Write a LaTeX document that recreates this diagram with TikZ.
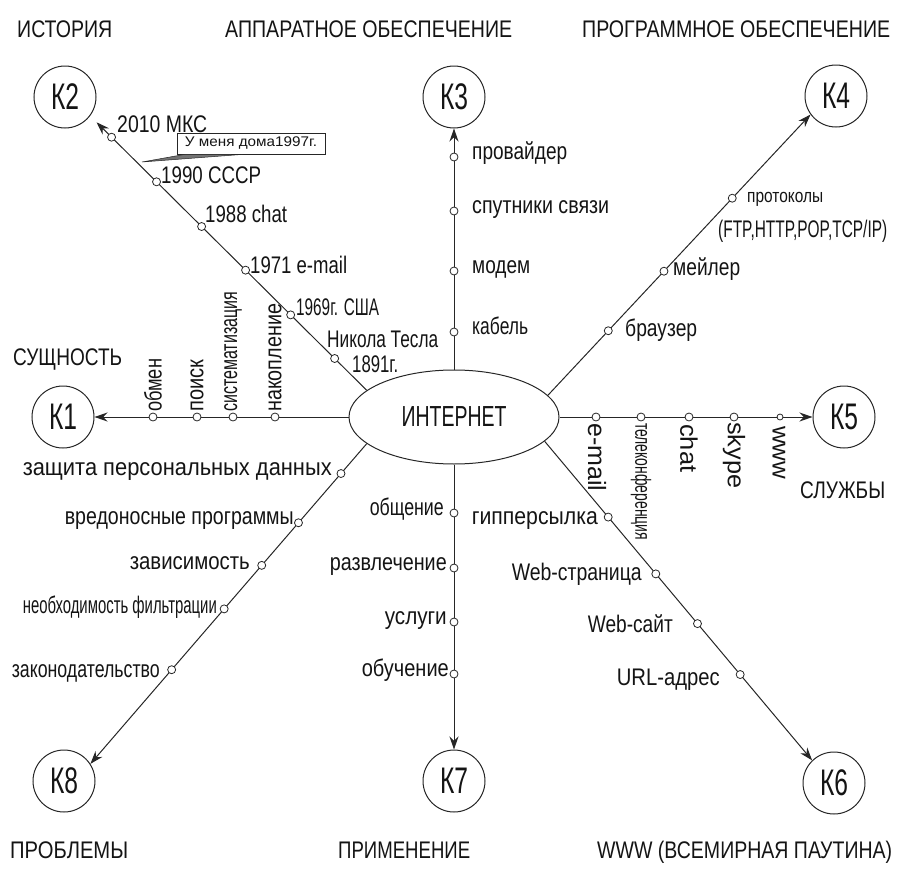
\documentclass[tikz,border=0pt]{standalone}
\usepackage{fontspec}
\setmainfont{Liberation Sans}
\usetikzlibrary{shapes.geometric,arrows.meta,calc}
\newcommand{\W}[2]{\resizebox{#1pt}{\height}{#2}}
\begin{document}
\begin{tikzpicture}[x=1pt,y=-1pt,
  every node/.style={inner sep=0pt, text=black!92},
  lbl/.style={font=\fontsize{24}{28}\selectfont},
  kc/.style={circle, draw=black!85, line width=1pt, minimum size=62pt, font=\fontsize{37}{40}\selectfont},
  dot/.style={circle, draw=black!85, fill=white, line width=0.8pt, minimum size=8pt},
  spoke/.style={draw=black!85, line width=1pt, -{Stealth[length=13pt,width=9pt]}},
]
\useasboundingbox (0,0) rectangle (897,870);

% centre
\node[ellipse, draw=black!85, line width=1pt, minimum width=210pt, minimum height=94pt,
      font=\fontsize{29}{32}\selectfont] (E) at (454,417) {\W{105}{ИНТЕРНЕТ}};

% category circles
\node[kc] (K1) at (63,417) {\W{28}{К1}};
\node[kc] (K2) at (65,97) {\W{28}{К2}};
\node[kc] (K3) at (454,97) {\W{28}{К3}};
\node[kc] (K4) at (836,96) {\W{28}{К4}};
\node[kc] (K5) at (844,417) {\W{28}{К5}};
\node[kc] (K6) at (834,783) {\W{28}{К6}};
\node[kc] (K7) at (454,781) {\W{28}{К7}};
\node[kc] (K8) at (64,781) {\W{28}{К8}};

% spokes
\draw[spoke] (E.west) -- (K1);
\draw[spoke, shorten >=9pt] (E.163.4) -- (K2.-37);
\draw[spoke] (E.north) -- (K3);
\draw[spoke] (E.13.7) -- (K4.216);
\draw[spoke] (E.east) -- (K5);
\draw[spoke] (E.-15.5) -- (K6.134);
\draw[spoke] (E.south) -- (K7);
\draw[spoke] (E.197.6) -- (K8.33);

% titles
\node[lbl, anchor=base west] (t1) at (17,37) {\W{95}{ИСТОРИЯ}};
\node[lbl, anchor=base west] (t2) at (225,37) {\W{287}{АППАРАТНОЕ ОБЕСПЕЧЕНИЕ}};
\node[lbl, anchor=base west] (t3) at (582,37) {\W{308}{ПРОГРАММНОЕ ОБЕСПЕЧЕНИЕ}};
\node[lbl, anchor=base west] (t4) at (13,365) {\W{109}{СУЩНОСТЬ}};
\node[lbl, anchor=base west] (t5) at (800,498) {\W{85}{СЛУЖБЫ}};
\node[lbl, anchor=base west] (t6) at (10,858) {\W{118}{ПРОБЛЕМЫ}};
\node[lbl, anchor=base west] (t7) at (338,858) {\W{132}{ПРИМЕНЕНИЕ}};
\node[lbl, anchor=base west] (t8) at (597,858) {\W{295}{WWW (ВСЕМИРНАЯ ПАУТИНА)}};

% K2: history
\node[dot] (h1) at ($(E.163.4)!0.9226!(K2.-37)$) {};
\node[dot] (h2) at ($(E.163.4)!0.760!(K2.-37)$) {};
\node[dot] (h3) at ($(E.163.4)!0.597!(K2.-37)$) {};
\node[dot] (h4) at ($(E.163.4)!0.438!(K2.-37)$) {};
\node[dot] (h5) at ($(E.163.4)!0.275!(K2.-37)$) {};
\node[dot] (h6) at ($(E.163.4)!0.116!(K2.-37)$) {};
\node[lbl, anchor=base west] (hl1) at (117,132) {\W{90}{2010 МКС}};
\node[lbl, anchor=base west] (hl2) at (161,183) {\W{100}{1990 СССР}};
\node[lbl, anchor=base west] (hl3) at (205,222) {\W{82}{1988 chat}};
\node[lbl, anchor=base west] (hl4) at (250,273) {\W{97}{1971 e-mail}};
\node[lbl, anchor=base west] (hl5) at (296,315) {\W{83}{1969г. США}};
\node[lbl, anchor=base west] (hl6) at (327,347) {\W{111}{Никола Тесла}};
\node[lbl, anchor=base west] (hl7) at (352,372) {\W{46}{1891г.}};

% callout
\node[draw=black!85, line width=0.8pt, minimum width=148pt, minimum height=21pt,
      font=\fontsize{14}{16}\selectfont] (cb) at (251,143.5) {\W{132}{У меня дома1997г.}};
\coordinate (cp) at (142,162);
\filldraw[fill=black!55, draw=black!85, line width=0.5pt, line join=round]
  (cp) -- ([xshift=8pt]cb.south west) -- ([xshift=66pt]cb.south west) -- cycle;

% K1: essence
\node[dot] (s1) at (153,417) {};
\node[dot] (s2) at (197,417) {};
\node[dot] (s3) at (233,417) {};
\node[dot] (s4) at (275,417) {};
\node[lbl, rotate=90, anchor=west] (sl1) at (153,412) {\W{53}{обмен}};
\node[lbl, rotate=90, anchor=west] (sl2) at (197,412) {\W{52}{поиск}};
\node[lbl, rotate=90, anchor=west] (sl3) at (233,412) {\W{120}{систематизация}};
\node[lbl, rotate=90, anchor=west] (sl4) at (275,412) {\W{108}{накопление}};

% K3: hardware
\node[dot] (a1) at (454,157) {};
\node[dot] (a2) at (454,211) {};
\node[dot] (a3) at (454,271) {};
\node[dot] (a4) at (454,332) {};
\node[lbl, anchor=mid west] (al1) at (472,157) {\W{95}{провайдер}};
\node[lbl, anchor=mid west] (al2) at (472,211) {\W{137}{спутники связи}};
\node[lbl, anchor=mid west] (al3) at (472,271) {\W{58}{модем}};
\node[lbl, anchor=mid west] (al4) at (472,332) {\W{56}{кабель}};

% K4: software
\node[dot] (p1) at ($(E.13.7)!0.230!(K4.216)$) {};
\node[dot] (p2) at ($(E.13.7)!0.442!(K4.216)$) {};
\node[dot] (p3) at ($(E.13.7)!0.702!(K4.216)$) {};
\node[lbl, anchor=mid west] (pl1) at (625,334) {\W{72}{браузер}};
\node[lbl, anchor=mid west] (pl2) at (673,273) {\W{67}{мейлер}};
\node[anchor=mid west, font=\fontsize{19}{22}\selectfont] (pl3) at (747,200) {\W{76}{протоколы}};
\node[lbl, anchor=base west] (pl4) at (718,237) {\W{169}{(FTP,HTTP,POP,TCP/IP)}};

% K5: services
\node[dot] (v1) at (596,417) {};
\node[dot] (v2) at (641,417) {};
\node[dot] (v3) at (689,417) {};
\node[dot] (v4) at (734,417) {};
\node[dot, minimum size=6pt] (v5) at (780,417) {};
\node[rotate=-90, anchor=west, font=\fontsize{25}{28}\selectfont] (vl1) at (597,423) {\W{68}{e-mail}};
\node[rotate=-90, anchor=west, font=\fontsize{22}{26}\selectfont] (vl2) at (641,423) {\W{117}{телеконференция}};
\node[lbl, rotate=-90, anchor=west] (vl3) at (689,424) {\W{48}{chat}};
\node[lbl, rotate=-90, anchor=west] (vl4) at (734,422) {\W{66}{skype}};
\node[lbl, rotate=-90, anchor=west] (vl5) at (779,426) {\W{53}{www}};

% K6: WWW
\node[dot] (w1) at ($(E.-15.5)!0.2375!(K6.134)$) {};
\node[dot] (w2) at ($(E.-15.5)!0.4156!(K6.134)$) {};
\node[dot] (w3) at ($(E.-15.5)!0.5714!(K6.134)$) {};
\node[dot] (w4) at ($(E.-15.5)!0.731!(K6.134)$) {};
\node[lbl, anchor=base east] (wl1) at (598,524) {\W{126}{гипперсылка}};
\node[lbl, anchor=base east] (wl2) at (642,580) {\W{130}{Web-страница}};
\node[lbl, anchor=base east] (wl3) at (673,632) {\W{85}{Web-сайт}};
\node[lbl, anchor=base east] (wl4) at (720,685) {\W{103}{URL-адрес}};

% K7: application
\node[dot] (u1) at (454,513) {};
\node[dot] (u2) at (454,568) {};
\node[dot] (u3) at (454,622) {};
\node[dot] (u4) at (454,674) {};
\node[lbl, anchor=mid east] (ul1) at (444,513) {\W{74}{общение}};
\node[lbl, anchor=mid east] (ul2) at (447,568) {\W{117}{развлечение}};
\node[lbl, anchor=mid east] (ul3) at (447,622) {\W{62}{услуги}};
\node[lbl, anchor=mid east] (ul4) at (449,674) {\W{87}{обучение}};

% K8: problems
\node[dot] (r1) at ($(E.197.6)!0.0932!(K8.33)$) {};
\node[dot] (r2) at ($(E.197.6)!0.247!(K8.33)$) {};
\node[dot] (r3) at ($(E.197.6)!0.380!(K8.33)$) {};
\node[dot] (r4) at ($(E.197.6)!0.516!(K8.33)$) {};
\node[dot] (r5) at ($(E.197.6)!0.706!(K8.33)$) {};
\node[lbl, anchor=mid east] (rl1) at (332,473) {\W{309}{защита персональных данных}};
\node[lbl, anchor=mid east] (rl2) at (294,522) {\W{229}{вредоносные программы}};
\node[lbl, anchor=mid east] (rl3) at (250,567) {\W{120}{зависимость}};
\node[lbl, anchor=mid east] (rl4) at (217,611) {\W{194}{необходимость фильтрации}};
\node[lbl, anchor=mid east] (rl5) at (160,675) {\W{148}{законодательство}};
\end{tikzpicture}
\end{document}
